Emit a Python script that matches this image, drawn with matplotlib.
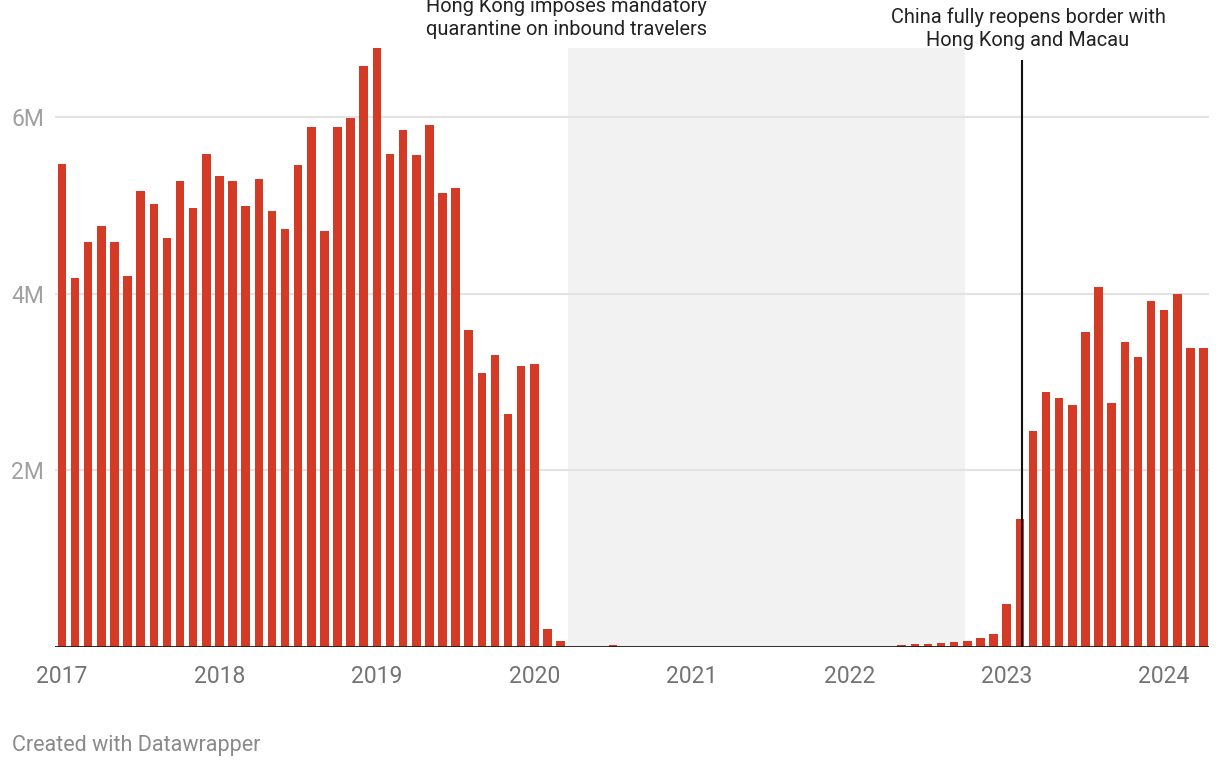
"""Monthly cross-border travellers, Jan 2017 - Apr 2024 (Datawrapper style bars)."""

import calendar

import matplotlib
import matplotlib.pyplot as plt
from matplotlib.transforms import blended_transform_factory

# no GUI backend
matplotlib.use('Agg')

# values in millions, one per month starting Jan 2017
values_2017 = [5.47, 4.18, 4.58, 4.77, 4.58, 4.20, 5.16, 5.01, 4.63, 5.27, 4.97, 5.58]
values_2018 = [5.33, 5.27, 4.99, 5.30, 4.94, 4.73, 5.46, 5.89, 4.71, 5.88, 5.99, 6.58]
values_2019 = [6.78, 5.58, 5.85, 5.57, 5.91, 5.14, 5.20, 3.59, 3.10, 3.31, 2.64, 3.18]
values_2020 = [3.20, 0.20, 0.07, 0, 0, 0, 0.018, 0, 0, 0, 0, 0]
values_2021 = [0, 0, 0, 0, 0, 0, 0, 0, 0, 0, 0, 0]
values_2022 = [0, 0, 0, 0, 0.018, 0.038, 0.038, 0.049, 0.060, 0.072, 0.105, 0.151]
values_2023 = [0.49, 1.45, 2.44, 2.89, 2.82, 2.74, 3.57, 4.07, 2.76, 3.45, 3.28, 3.92]
values_2024 = [3.81, 3.99, 3.39, 3.38]

values = (values_2017 + values_2018 + values_2019 + values_2020
          + values_2021 + values_2022 + values_2023 + values_2024)

year_labels = ["2017", "2018", "2019", "2020", "2021", "2022", "2023", "2024"]
y_ticks = [2, 4, 6]
y_tick_labels = ["2M", "4M", "6M"]

# events (dates)
quarantine_start = (2020, 3, 19)
quarantine_end = (2022, 9, 26)
reopen_date = (2023, 2, 6)
quarantine_text = "Hong Kong imposes mandatory\nquarantine on inbound travelers"
reopen_text = "China fully reopens border with\nHong Kong and Macau"

BAR_COLOR = "#d33b27"
SHADE_COLOR = "#f2f2f2"
GRID_COLOR = "#e3e3e3"


def month_pos(date):
    """Position on the month axis (0 = Jan 2017, bars centred on the 1st)."""
    year, month, day = date
    days = calendar.monthrange(year, month)[1]
    return (year - 2017) * 12 + (month - 1) + (day - 1) / days


plt.rcParams['font.family'] = ['Roboto', 'DejaVu Sans']

fig = plt.figure(figsize=(12.2, 7.7), dpi=100)
ax = fig.add_axes([0.0451, 0.1597, 0.9459, 0.778])

x = list(range(len(values)))
ax.axvspan(month_pos(quarantine_start), month_pos(quarantine_end),
           color=SHADE_COLOR, zorder=0, lw=0)
ax.bar(x, values, width=0.65, color=BAR_COLOR, zorder=2, lw=0)

ax.set_xlim(-0.53, 87.42)
ax.set_ylim(0, max(values))

# grid lines
for t in y_ticks:
    ax.axhline(t, color=GRID_COLOR, lw=1.5, zorder=1)
ax.axhline(0, color="#1a1a1a", lw=2, zorder=3)

ax.set_yticks(y_ticks)
ax.set_yticklabels(y_tick_labels)
ax.set_xticks(range(0, 12 * len(year_labels), 12))
ax.set_xticklabels(year_labels)
ax.tick_params(axis='y', length=0, pad=8, labelsize=16.5, labelcolor="#a0a0a0")
ax.tick_params(axis='x', length=0, pad=13, labelsize=16.5, labelcolor="#737373")
for spine in ax.spines.values():
    spine.set_visible(False)

# reopening line and notes
reopen_x = month_pos(reopen_date)
ax.vlines(reopen_x, 0, 6.64, color="#111111", lw=1.5, zorder=4)

trans = blended_transform_factory(ax.transData, fig.transFigure)
ax.text(month_pos(quarantine_start) - 0.15, 0.977, quarantine_text, transform=trans,
        ha='center', va='center', fontsize=14.4, color="#222222", linespacing=1.25)
ax.text(reopen_x + 0.45, 0.9625, reopen_text, transform=trans,
        ha='center', va='center', fontsize=14.4, color="#222222", linespacing=1.25)

fig.text(12 / 1220, 1 - 746 / 770, "Created with Datawrapper", ha='left', va='center',
         fontsize=15.5, color="#8a8a8a")

fig.savefig("out.png", dpi=100)
plt.close(fig)
